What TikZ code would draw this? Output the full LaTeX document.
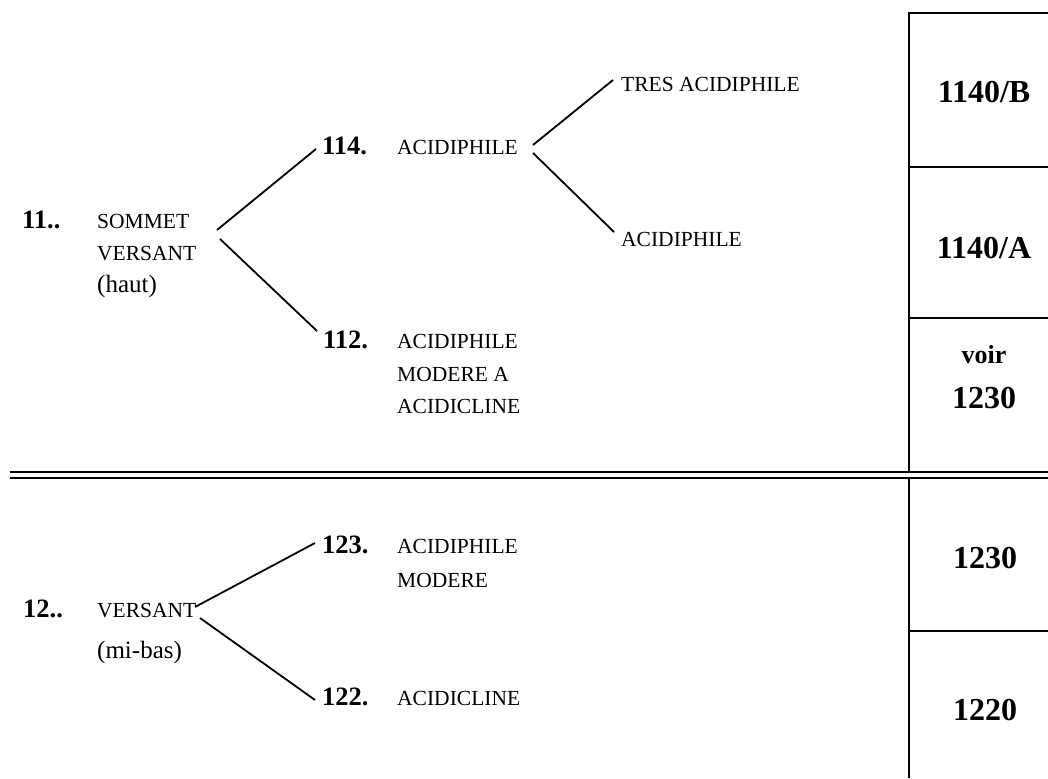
\documentclass[tikz,border=0pt]{standalone}
\usepackage{fontspec}
\setmainfont{Liberation Serif}
\tikzset{
  x=1pt, y=-1pt,
  caps/.style={anchor=base west, inner sep=0pt, font=\fontsize{21.5}{24}\selectfont},
  reg/.style={anchor=base west, inner sep=0pt, font=\fontsize{25}{30}\selectfont},
  num/.style={anchor=base west, inner sep=0pt, font=\fontsize{26.5}{30}\selectfont\bfseries},
  boxnum/.style={anchor=base, inner sep=0pt, font=\fontsize{32}{36}\selectfont\bfseries},
  boxsm/.style={anchor=base, inner sep=0pt, font=\fontsize{26}{30}\selectfont\bfseries},
  branch/.style={line width=1.8pt},
  rule/.style={line width=2.2pt},
}
\begin{document}
\begin{tikzpicture}
\useasboundingbox (0,0) rectangle (1048,778);
% table lines
\coordinate (tl) at (909,13);
\coordinate (tr) at (1048,13);
\coordinate (d1l) at (10,472);
\coordinate (d1r) at (1048,472);
\coordinate (d2l) at (10,478);
\coordinate (d2r) at (1048,478);
\coordinate (v1b) at (909,472);
\coordinate (v2t) at (909,478);
\coordinate (v2b) at (909,778);
\coordinate (h1l) at (909,167);
\coordinate (h1r) at (1048,167);
\coordinate (h2l) at (909,318);
\coordinate (h2r) at (1048,318);
\coordinate (h3l) at (909,631);
\coordinate (h3r) at (1048,631);
\draw[rule] (tr) -- (tl) -- (v1b);
\draw[rule] (v2t) -- (v2b);
\draw[rule] (h1l) -- (h1r);
\draw[rule] (h2l) -- (h2r);
\draw[rule] (h3l) -- (h3r);
\draw[line width=2pt] (d1l) -- (d1r);
\draw[line width=2pt] (d2l) -- (d2r);

% box labels
\node[boxnum] (b1) at (984,103) {1140/B};
\node[boxnum] (b2) at (984,258) {1140/A};
\node[boxsm] (b3a) at (984,363) {voir};
\node[boxnum] (b3b) at (984,408) {1230};
\node[boxnum] (b4) at (985,568) {1230};
\node[boxnum] (b5) at (985,720) {1220};

% upper tree
\node[num] (n11) at (22,228) {11..};
\node[caps] (t11a) at (97,228) {SOMMET};
\node[caps] (t11b) at (97,260) {VERSANT};
\node[reg] (t11c) at (97,292) {(haut)};

\node[num] (n114) at (322,154) {114.};
\node[caps] (t114) at (397,154) {ACIDIPHILE};
\node[caps] (t1140b) at (621,92) {TRES ACIDIPHILE};
\node[caps] (t1140a) at (621,246) {ACIDIPHILE};

\node[num] (n112) at (323,348) {112.};
\node[caps] (t112a) at (397,348) {ACIDIPHILE};
\node[caps] (t112b) at (397,381) {MODERE A};
\node[caps] (t112c) at (397,413) {ACIDICLINE};

\coordinate (s11u) at (217,230);
\coordinate (e114) at (316,149);
\coordinate (s11d) at (220,239);
\coordinate (e112) at (317,331);
\coordinate (s114u) at (533,145);
\coordinate (eTres) at (613,80);
\coordinate (s114d) at (533,153);
\coordinate (eAc) at (614,232);
\draw[branch] (s11u) -- (e114);
\draw[branch] (s11d) -- (e112);
\draw[branch] (s114u) -- (eTres);
\draw[branch] (s114d) -- (eAc);

% lower tree
\node[num] (n12) at (23,617) {12..};
\node[caps] (t12a) at (97,617) {VERSANT};
\node[reg] (t12b) at (97,658) {(mi-bas)};

\node[num] (n123) at (322,553) {123.};
\node[caps] (t123a) at (397,553) {ACIDIPHILE};
\node[caps] (t123b) at (397,587) {MODERE};
\node[num] (n122) at (322,705) {122.};
\node[caps] (t122) at (397,705) {ACIDICLINE};

\coordinate (s12u) at (195,607);
\coordinate (e123) at (315,543);
\coordinate (s12d) at (200,618);
\coordinate (e122) at (315,700);
\draw[branch] (s12u) -- (e123);
\draw[branch] (s12d) -- (e122);
\end{tikzpicture}
\end{document}
